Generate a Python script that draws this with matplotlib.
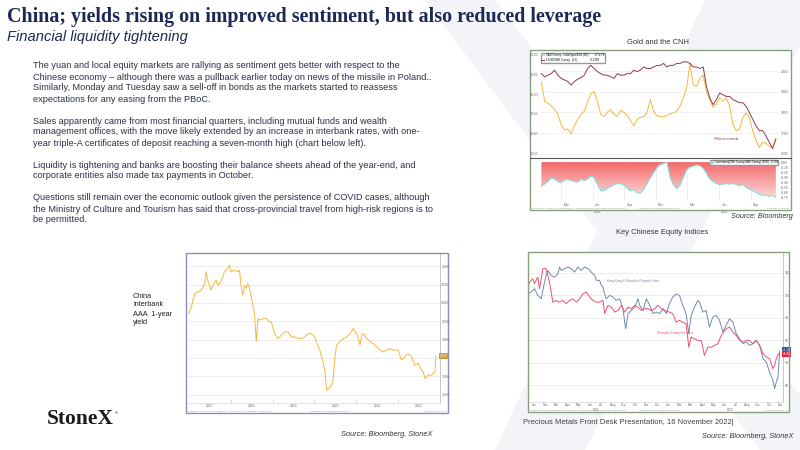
import numpy as np
import matplotlib
matplotlib.use("Agg")
import matplotlib.pyplot as plt
from matplotlib.patches import Rectangle, Polygon
from matplotlib.colors import LinearSegmentedColormap
from matplotlib.lines import Line2D

# ---- data ----
# Gold and the CNH (months since 1 Jan 2021)
gold_px = [1949, 1854, 1845, 1830, 1815, 1790, 1740, 1715, 1720, 1695, 1735, 1765, 1790, 1806, 1850, 1890,
           1900, 1850, 1790, 1780, 1800, 1812, 1790, 1780, 1810, 1800, 1785, 1759, 1735, 1767, 1775, 1780,
           1800, 1862, 1806, 1783, 1780, 1778, 1786, 1794, 1798, 1805, 1830, 1870, 1920, 2037, 1933, 1925,
           1965, 1981, 1900, 1860, 1825, 1840, 1870, 1854, 1870, 1830, 1743, 1711, 1719, 1775, 1798, 1775,
           1711, 1663, 1630, 1655, 1650, 1635, 1632, 1671]
cnh_inv = [0.1552, 0.1544, 0.1548, 0.1552, 0.1561, 0.1548, 0.1540, 0.1536, 0.1532, 0.1523, 0.1532, 0.1538,
           0.1542, 0.1548, 0.1565, 0.1573, 0.1565, 0.1557, 0.1552, 0.1548, 0.1548, 0.1544, 0.1540, 0.1552,
           0.1548, 0.1548, 0.1552, 0.1552, 0.1561, 0.1557, 0.1561, 0.1569, 0.1565, 0.1565, 0.1569, 0.1573,
           0.1573, 0.1578, 0.1569, 0.1573, 0.1573, 0.1578, 0.1578, 0.1582, 0.1582, 0.1578, 0.1569, 0.1569,
           0.1565, 0.1569, 0.1519, 0.1490, 0.1473, 0.1486, 0.1503, 0.1498, 0.1494, 0.1494, 0.1486, 0.1482,
           0.1478, 0.1478, 0.1469, 0.1453, 0.1436, 0.1419, 0.1407, 0.1407, 0.1394, 0.1378, 0.1361, 0.1386]
corr = [-0.47, -0.43, -0.38, -0.31, -0.33, -0.38, -0.40, -0.35, -0.34, -0.36, -0.38, -0.39, -0.34, -0.36,
        -0.33, -0.27, -0.31, -0.44, -0.56, -0.56, -0.51, -0.48, -0.44, -0.42, -0.42, -0.45, -0.51, -0.56,
        -0.54, -0.60, -0.61, -0.53, -0.42, -0.31, -0.21, -0.11, -0.05, -0.03, 0.00, -0.30, -0.45, -0.52,
        -0.45, -0.30, -0.15, -0.10, -0.08, -0.06, -0.07, -0.12, -0.22, -0.33, -0.38, -0.42, -0.44, -0.43,
        -0.42, -0.43, -0.42, -0.44, -0.46, -0.44, -0.49, -0.53, -0.56, -0.59, -0.63, -0.65, -0.64, -0.67,
        -0.65, -0.69]
gold_t = np.linspace(0.13, 22.4, len(gold_px))
quarter_labels = ["Mar", "Jun", "Sep", "Dec", "Mar", "Jun", "Sep"]

# China interbank AAA 1-year yield (decimal years)
yld_t = [2017.00, 2017.06, 2017.14, 2017.22, 2017.30, 2017.38, 2017.41, 2017.45, 2017.53, 2017.57, 2017.65,
         2017.69, 2017.77, 2017.85, 2017.93, 2017.97, 2018.01, 2018.09, 2018.17, 2018.21, 2018.25, 2018.29,
         2018.33, 2018.37, 2018.41, 2018.45, 2018.49, 2018.53, 2018.57, 2018.61, 2018.65, 2018.69, 2018.77,
         2018.85, 2018.89, 2018.93, 2018.97, 2019.05, 2019.13, 2019.21, 2019.29, 2019.37, 2019.45, 2019.53,
         2019.61, 2019.69, 2019.77, 2019.85, 2019.93, 2020.01, 2020.09, 2020.13, 2020.21, 2020.25, 2020.29,
         2020.37, 2020.41, 2020.45, 2020.49, 2020.53, 2020.61, 2020.69, 2020.77, 2020.85, 2020.93, 2020.97,
         2021.01, 2021.05, 2021.09, 2021.13, 2021.17, 2021.25, 2021.33, 2021.41, 2021.49, 2021.57, 2021.64,
         2021.72, 2021.80, 2021.88, 2022.00, 2022.08, 2022.16, 2022.24, 2022.32, 2022.40, 2022.48, 2022.52,
         2022.56, 2022.60, 2022.64, 2022.72, 2022.80, 2022.88, 2022.90]
yld_v = [3.71, 3.89, 4.25, 4.30, 4.35, 4.53, 4.85, 4.62, 4.35, 4.48, 4.62,
         4.48, 4.57, 4.85, 4.94, 5.03, 4.85, 4.89, 4.85, 4.89, 4.44, 4.21,
         4.48, 4.39, 4.53, 4.39, 4.16, 3.94, 3.71, 2.94, 3.57, 3.53, 3.57,
         3.57, 3.53, 3.48, 3.48, 3.16, 3.03, 3.12, 3.21, 3.21, 3.07, 3.07,
         3.03, 3.03, 3.07, 3.16, 3.16, 3.07, 2.80, 2.71, 2.35, 2.16, 1.62,
         1.71, 1.75, 1.94, 2.53, 2.85, 2.94, 3.03, 3.07, 3.16, 3.30, 3.21,
         3.16, 3.03, 2.85, 3.12, 3.16, 3.03, 2.94, 2.89, 2.80, 2.71, 2.66,
         2.71, 2.75, 2.71, 2.71, 2.44, 2.53, 2.62, 2.53, 2.30, 2.35, 2.25,
         2.16, 2.12, 1.94, 2.03, 2.03, 2.12, 2.55]
yld_years = ["2017", "2018", "2019", "2020", "2021", "2022"]
yld_ticks = [1.5, 2.0, 2.5, 3.0, 3.5, 4.0, 4.5, 5.0]

# Key Chinese equity indices (months since 1 Jan 2021, rebased)
prop_t = [-0.07, 0.23, 0.53, 0.83, 1.13, 1.43, 1.57, 1.72, 2.02, 2.32, 2.62, 2.77, 2.92, 3.22, 3.51, 3.81,
          4.11, 4.41, 4.71, 5.01, 5.31, 5.60, 5.90, 6.05, 6.35, 6.50, 6.65, 6.80, 6.95, 7.25, 7.54, 7.84,
          8.14, 8.44, 8.59, 8.68, 8.89, 9.19, 9.49, 9.78, 9.93, 10.23, 10.53, 10.83, 11.13, 11.43, 11.72,
          12.02, 12.32, 12.59, 12.89, 13.19, 13.49, 13.78, 14.08, 14.32, 14.53, 14.83, 15.13, 15.28, 15.57,
          15.87, 16.17, 16.47, 16.77, 17.07, 17.37, 17.66, 17.96, 18.26, 18.56, 18.86, 19.16, 19.46, 19.75,
          20.05, 20.35, 20.65, 20.95, 21.25, 21.54, 21.84, 21.99, 22.14, 22.29, 22.44]
prop_v = [100.7, 101.5, 103.0, 100.0, 98.5, 105.9, 108.9, 111.1, 108.9, 108.1, 109.6, 112.6, 111.1, 111.9,
          112.6, 111.9, 110.4, 112.6, 111.1, 112.6, 111.9, 110.4, 108.9, 106.7, 106.7, 104.4, 103.7, 100.7,
          98.5, 100.0, 99.3, 97.8, 98.5, 94.1, 88.1, 85.2, 91.9, 93.3, 94.8, 98.5, 95.6, 93.3, 98.5, 95.6,
          91.9, 92.6, 91.9, 94.1, 91.9, 96.3, 99.3, 100.7, 100.0, 95.6, 91.9, 83.0, 91.1, 94.8, 97.8, 97.0,
          92.6, 93.3, 85.9, 90.4, 91.1, 88.9, 83.7, 86.7, 89.6, 88.1, 83.0, 80.7, 78.5, 79.3, 77.8, 78.5,
          80.0, 77.8, 71.9, 70.4, 65.9, 62.2, 58.5, 61.5, 63.7, 75.1]
shcomp_t = [-0.07, 0.08, 0.38, 0.53, 0.68, 0.83, 0.98, 1.28, 1.57, 1.72, 1.87, 2.02, 2.17, 2.47, 2.77, 3.07,
            3.37, 3.66, 3.96, 4.26, 4.56, 4.86, 5.16, 5.46, 5.75, 6.05, 6.35, 6.65, 6.80, 7.10, 7.40, 7.69,
            7.99, 8.29, 8.59, 8.89, 9.19, 9.49, 9.78, 10.08, 10.38, 10.68, 10.98, 11.28, 11.57, 11.87, 12.17,
            12.59, 12.89, 13.19, 13.49, 13.78, 14.08, 14.32, 14.53, 14.83, 15.13, 15.43, 15.72, 16.02, 16.32,
            16.62, 16.92, 17.22, 17.66, 17.96, 18.26, 18.56, 18.86, 19.16, 19.46, 19.75, 20.05, 20.35, 20.65,
            20.95, 21.25, 21.54, 21.84, 21.99, 22.14, 22.44]
shcomp_v = [103.7, 105.9, 107.4, 105.2, 106.7, 108.1, 103.0, 111.9, 111.9, 108.9, 105.9, 101.5, 97.0, 97.8,
            97.0, 97.8, 96.3, 97.8, 98.5, 97.0, 98.5, 100.7, 101.5, 99.3, 97.8, 97.0, 97.0, 97.8, 91.9, 95.6,
            94.8, 92.6, 93.3, 95.6, 92.6, 94.8, 94.1, 95.6, 94.8, 93.3, 94.1, 94.1, 93.3, 94.1, 95.6, 94.1,
            93.3, 92.6, 91.9, 88.1, 88.9, 88.1, 87.4, 77.0, 81.5, 80.7, 80.0, 80.0, 73.3, 77.0, 77.0, 77.8,
            78.5, 82.2, 85.2, 85.9, 83.7, 82.2, 80.0, 79.3, 80.0, 80.0, 78.5, 80.0, 77.8, 74.1, 72.6, 71.9,
            67.4, 68.9, 71.9, 74.8]
month_labels = ["Jan", "Feb", "Mar", "Apr", "May", "Jun", "Jul", "Aug", "Sep", "Oct", "Nov", "Dec"] * 2

body = [
    "The yuan and local equity markets are rallying as sentiment gets better with respect to the",
    "Chinese economy \u2013 although there was a pullback earlier today on news of the missile in Poland..",
    "Similarly, Monday and Tuesday saw a sell-off in bonds as the markets started to reassess",
    "expectations for any easing from the PBoC.",
    None,
    "Sales apparently came from most financial quarters, including mutual funds and wealth",
    "management offices, with the move likely extended by an increase in interbank rates, with one-",
    "year triple-A certificates of deposit reaching a seven-month high (chart below left).",
    None,
    "Liquidity is tightening and banks are boosting their balance sheets ahead of the year-end, and",
    "corporate entities also made tax payments in October.",
    None,
    "Questions still remain over the economic outlook given the persistence of COVID cases, although",
    "the Ministry of Culture and Tourism has said that cross-provincial travel from high-risk regions is to",
    "be permitted.",
]

W, H = 800, 450
NAVY = "#1d2856"
TICK = "#666666"
GREEN_FRAME = "#86a07f"
BLUE_FRAME = "#8a90b4"

plt.rcParams["font.family"] = ["Liberation Sans", "DejaVu Sans"]


def rect(x0, y0, x1, y1):
    return [x0 / W, 1 - y1 / H, (x1 - x0) / W, (y1 - y0) / H]


def bloomberg_axes(ax):
    for s in ax.spines.values():
        s.set_visible(False)
    ax.tick_params(labelsize=2.4, labelcolor=TICK, length=0, pad=1)


fig = plt.figure(figsize=(8, 4.5), dpi=100)
fig.patch.set_facecolor("white")

# background watermark + white chart boxes
bg = fig.add_axes([0, 0, 1, 1])
bg.set_xlim(0, W)
bg.set_ylim(H, 0)
bg.axis("off")
bg.add_patch(Polygon([(425, 0), (495, 0), (800, 395), (800, 450), (760, 450)], color="#f3f4f7", lw=0))
bg.add_patch(Polygon([(705, 0), (800, 0), (800, 45), (585, 450), (495, 450)], color="#f3f4f7", lw=0))
for x0, y0, x1, y1 in [(530, 50, 791, 210), (186, 253, 448, 413), (528, 252, 789, 412)]:
    bg.add_patch(Rectangle((x0, y0), x1 - x0, y1 - y0, facecolor="white", lw=0))

# ---- Gold and the CNH: upper panel ----
ax1 = fig.add_axes(rect(540, 52, 779, 157))
ax1b = ax1.twinx()
ax1.set_zorder(ax1b.get_zorder() + 1)
ax1.patch.set_visible(False)
l_gold, = ax1b.plot(gold_t, gold_px, color="#f6b73c", lw=0.7)
l_cnh, = ax1.plot(gold_t, cnh_inv, color="#8b3c4c", lw=0.7)
ax1.set_xlim(0.0, 22.7)
ax1.set_ylim(0.134, 0.1607)
ax1b.set_ylim(1584, 2092)
ax1.set_yticks([0.135, 0.140, 0.145, 0.150, 0.155, 0.160])
ax1.set_yticklabels(["%.3f" % v for v in [0.135, 0.140, 0.145, 0.150, 0.155, 0.160]])
ax1b.set_yticks([1600, 1700, 1800, 1900, 2000])
ax1.set_xticks([])
ax1b.grid(axis="y", color="#e8e8e8", lw=0.4)
bloomberg_axes(ax1)
bloomberg_axes(ax1b)
ax1.legend([l_gold, l_cnh], ["XAU Curncy - Gold Spot $/Oz (R1)        1772.78",
                             "1/USDCNH Curncy - (L1)                  0.1398"],
           loc="upper left", fontsize=2.0, handlelength=0.8, borderpad=0.3, labelspacing=0.1,
           fancybox=False, edgecolor="#999999", framealpha=1, borderaxespad=0.2)
ax1.text(16.5, 0.1382, "Offshore renminbi", fontsize=2.2, color="#8b3c4c")

# ---- Gold and the CNH: correlation panel ----
ax2 = fig.add_axes(rect(540, 159, 779, 201))
fill = ax2.fill_between(gold_t, 0, corr, color="none", lw=0)
red_cmap = LinearSegmentedColormap.from_list("reds", ["#fde2e2", "#f46a6a"])
grad = ax2.imshow(np.linspace(1, 0, 256).reshape(-1, 1), cmap=red_cmap, aspect="auto",
                  extent=(gold_t[0], gold_t[-1], -0.76, 0.0), origin="upper", zorder=1)
grad.set_clip_path(fill.get_paths()[0], transform=ax2.transData)
ax2.plot(gold_t, corr, color="#7fe0dc", lw=0.8, zorder=3)
ax2.set_xlim(0.0, 22.7)
ax2.set_ylim(-0.76, 0.06)
ax2.yaxis.tick_right()
ax2.set_yticks([0.0, -0.1, -0.2, -0.3, -0.4, -0.5, -0.6, -0.7])
ax2.set_yticklabels(["%.2f" % v for v in [0.0, -0.1, -0.2, -0.3, -0.4, -0.5, -0.6, -0.7]])
ax2.set_xticks([2.5 + 3 * i for i in range(len(quarter_labels))])
ax2.set_xticklabels(quarter_labels)
for b in [2, 5, 8, 11, 14, 17, 20]:
    ax2.axvline(b, color="#e2e2e2", lw=0.4, zorder=0.5)
bloomberg_axes(ax2)
ax2.tick_params(axis="x", pad=1.5)
ax2.text(5.5, -0.99, "2021", fontsize=2.4, color=TICK, ha="center")
ax2.text(17.5, -0.99, "2022", fontsize=2.4, color=TICK, ha="center")
ax2.legend([Line2D([], [], color="#7fe0dc", lw=2)], ["Correlation(CNH Curncy,XAU Curncy) (60D)  -0.703"],
           loc="upper right", fontsize=2.0, handlelength=0.6, borderpad=0.2, fancybox=False,
           edgecolor="#999999", framealpha=1, borderaxespad=0.2)

# ---- China interbank AAA 1-year yield ----
ax4 = fig.add_axes(rect(188, 253, 440, 403))
ax4.plot(yld_t, yld_v, color="#f6b73c", lw=0.7)
ax4.set_xlim(2016.98, 2023.0)
ax4.set_ylim(1.27, 5.36)
ax4.yaxis.tick_right()
ax4.set_yticks(yld_ticks)
# the current-value tag hides the label it sits on
ax4.set_yticklabels(["" if abs(v - yld_v[-1]) < 0.2 else "%.3f" % v for v in yld_ticks])
ax4.set_xticks([int(y) + 0.5 for y in yld_years])
ax4.set_xticklabels(yld_years)
ax4.grid(axis="y", color="#e6e6e6", lw=0.5)
bloomberg_axes(ax4)
ax4.spines["right"].set_visible(True)
ax4.spines["right"].set_color("#b0b0b0")
ax4.spines["right"].set_linewidth(0.5)
ax4.spines["bottom"].set_visible(True)
ax4.spines["bottom"].set_color("#cfcfcf")
ax4.spines["bottom"].set_linewidth(0.4)
for y in yld_years[1:]:
    ax4.axvline(int(y), ymax=0.03, color="#bbbbbb", lw=0.4)
ax4.text(1.0, yld_v[-1], "%.3f" % yld_v[-1], transform=ax4.get_yaxis_transform(), fontsize=2.3,
         color="white", va="center", ha="left",
         bbox=dict(facecolor="#d39a2c", edgecolor="none", pad=0.6))

# ---- Key Chinese equity indices ----
ax3 = fig.add_axes(rect(528, 252, 783, 402))
ax3.plot(prop_t, prop_v, color="#7189b3", lw=0.7)
ax3.plot(shcomp_t, shcomp_v, color="#f2506b", lw=0.7)
ax3.set_xlim(-0.05, 22.74)
ax3.set_ylim(52.6, 119.3)
ax3.yaxis.tick_right()
ax3.set_yticks([60, 70, 80, 90, 100, 110])
ax3.set_xticks([m + 0.5 for m in range(23)])
ax3.set_xticklabels(month_labels[:23])
ax3.grid(axis="y", color="#e6e6e6", lw=0.5)
bloomberg_axes(ax3)
ax3.tick_params(axis="x", labelsize=2.2)
ax3.spines["right"].set_visible(True)
ax3.spines["right"].set_color("#b0b0b0")
ax3.spines["right"].set_linewidth(0.5)
ax3.spines["bottom"].set_visible(True)
ax3.spines["bottom"].set_color("#cfcfcf")
ax3.spines["bottom"].set_linewidth(0.4)
ax3.text(6.0, 48.6, "2021", fontsize=2.2, color=TICK, ha="center")
ax3.text(18.0, 48.6, "2022", fontsize=2.2, color=TICK, ha="center")
ax3.text(7.0, 106.0, "Hong Kong & Shanghai Property Index", fontsize=2.2, color="#6d86b0")
ax3.text(11.5, 82.8, "Shanghai Composite Index", fontsize=2.2, color="#f2506b")
ax3.text(1.0, prop_v[-1] + 0.6, "%.2f" % prop_v[-1], transform=ax3.get_yaxis_transform(), fontsize=2.2,
         color="white", va="center", ha="left", bbox=dict(facecolor="#2f4f8f", edgecolor="none", pad=0.6))
ax3.text(1.0, shcomp_v[-1] - 1.0, "%.2f" % shcomp_v[-1], transform=ax3.get_yaxis_transform(),
         fontsize=2.2, color="white", va="center", ha="left",
         bbox=dict(facecolor="#e8203a", edgecolor="none", pad=0.6))

# ---- overlay: frames and slide text ----
ov = fig.add_axes([0, 0, 1, 1])
ov.set_xlim(0, W)
ov.set_ylim(H, 0)
ov.axis("off")
ov.patch.set_visible(False)
ov.add_patch(Rectangle((530, 50), 261, 160, fill=False, edgecolor=GREEN_FRAME, lw=1.0))
ov.plot([530, 791], [157.5, 157.5], color="#555555", lw=0.8)
ov.add_patch(Rectangle((528, 252), 261, 160, fill=False, edgecolor=GREEN_FRAME, lw=1.0))
ov.add_patch(Rectangle((186, 253), 262, 160, fill=False, edgecolor=BLUE_FRAME, lw=1.0))

# tiny Bloomberg footers
ov.text(532, 208.5, "CNH Curncy (Offshore Chinese Renminbi)  Gold and the CNH  Daily 31DEC2020-16NOV2022",
        fontsize=1.6, color="#888888", va="center")
ov.text(660, 208.5, "Copyright\u00a9 2022 Bloomberg Finance L.P.", fontsize=1.6, color="#888888",
        va="center", ha="center")
ov.text(789, 208.5, "16-Nov-2022 12:10:56", fontsize=1.6, color="#888888", va="center", ha="right")
ov.text(188, 411, "CNNCD1Y Index (China Interbank AAA 1 Year Yield)  Daily 03JAN2017-16NOV2022",
        fontsize=1.6, color="#888888", va="center")
ov.text(330, 411, "Copyright\u00a9 2022 Bloomberg Finance L.P.", fontsize=1.6, color="#888888",
        va="center", ha="center")
ov.text(446, 411, "16-Nov-2022 12:05:41", fontsize=1.6, color="#888888", va="center", ha="right")
ov.text(530, 410.5, "HSMPI Index (Hang Seng Mainland Properties)  SHCOMP Index  Daily 31DEC2020-16NOV2022",
        fontsize=1.6, color="#888888", va="center")
ov.text(660, 410.5, "Copyright\u00a9 2022 Bloomberg Finance L.P.", fontsize=1.6, color="#888888",
        va="center", ha="center")
ov.text(787, 410.5, "16-Nov-2022 12:14:22", fontsize=1.6, color="#888888", va="center", ha="right")

ov.text(7, 17, "China; yields rising on improved sentiment, but also reduced leverage",
        fontsize=14.4, fontweight="bold", family=["Liberation Serif", "DejaVu Serif"], color=NAVY,
        va="center")
ov.text(7, 37, "Financial liquidity tightening", fontsize=10.6, style="italic", color=NAVY, va="center")

y = 66
for line in body:
    if line is not None:
        ov.text(33, y, line, fontsize=6.55, color="#2b2f4a", va="center")
    y += 11

ov.text(658, 43, "Gold and the CNH", fontsize=5.4, color="#333333", ha="center", va="center")
ov.text(793, 217, "Source: Bloomberg", fontsize=5.2, style="italic", color="#333333", ha="right", va="center")
ov.text(662, 233, "Key Chinese Equity Indices", fontsize=5.4, color="#333333", ha="center", va="center")
ov.text(523, 423, "Precious Metals Front Desk Presentation, 16 November 2022|", fontsize=5.5,
        color="#404040", va="center")
ov.text(793, 437, "Source: Bloomberg, StoneX", fontsize=5.3, style="italic", color="#333333",
        ha="right", va="center")
ov.text(432, 435, "Source: Bloomberg, StoneX", fontsize=5.3, style="italic", color="#333333",
        ha="right", va="center")
for i, word in enumerate(["China", "interbank", "AAA  1-year", "yield"]):
    ov.text(133, 296 + 9 * i, word, fontsize=5.3, color="#222222", va="center")
ov.text(47, 419, "StoneX", fontsize=15.5, fontweight="bold", family=["Liberation Serif", "DejaVu Serif"],
        color="#1a1a1a", va="center")
ov.text(115, 413, "\u00ae", fontsize=3, color="#1a1a1a", va="center")

fig.savefig("out.png", dpi=100)
